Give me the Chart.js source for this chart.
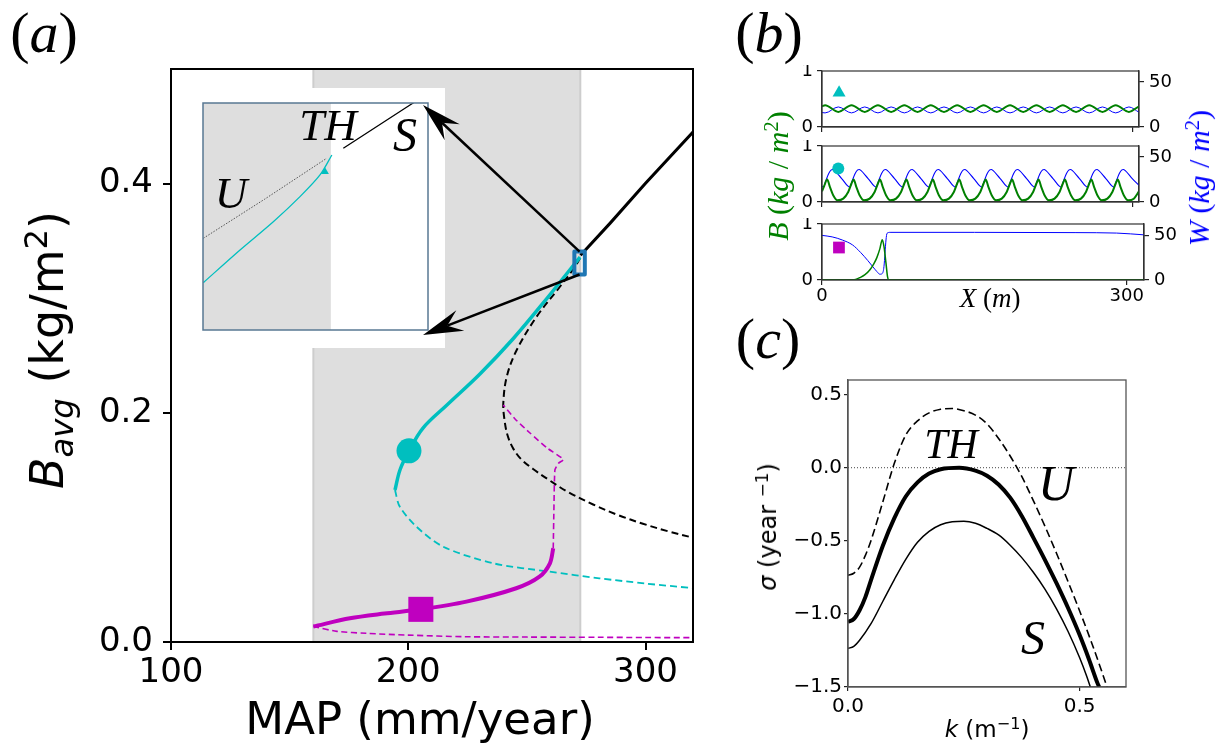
<!DOCTYPE html>
<html>
<head>
<meta charset="utf-8">
<title>Bifurcation diagram</title>
<script src="https://cdn.jsdelivr.net/npm/chart.js@4.4.1/dist/chart.umd.min.js"></script>
<style>
html,body{margin:0;padding:0;background:#fff;}
#wrap{position:relative;width:1223px;height:754px;overflow:hidden;background:#fff;}
canvas{position:absolute;display:block;}
.t{position:absolute;white-space:nowrap;line-height:1;color:#000;}
.c{transform:translate(-50%,-50%);}
.r{transform:translate(-50%,-50%) rotate(-90deg);}
.serif{font-family:"Liberation Serif","DejaVu Serif",serif;}
.sans{font-family:"DejaVu Sans","Liberation Sans",sans-serif;}
.sup{font-size:0.7em;position:relative;top:-0.5em;}
.sub{font-size:0.7em;position:relative;top:0.3em;}
</style>
</head>
<body>
<div id="wrap">
<canvas id="cA" width="720" height="754" style="left:0;top:0"></canvas>
<canvas id="cIn" width="248" height="260" style="left:197px;top:88px"></canvas>
<canvas id="cB1" width="443" height="74" style="left:780px;top:65px"></canvas>
<canvas id="cB2" width="443" height="74" style="left:780px;top:140px"></canvas>
<canvas id="cB3" width="443" height="92" style="left:780px;top:218px"></canvas>
<canvas id="cC" width="443" height="384" style="left:780px;top:370px"></canvas>
<canvas id="cArrows" width="1223" height="754" style="left:0;top:0"></canvas>

<div class="t serif c" style="left:44px;top:33px;font-size:58px">(<i>a</i>)</div>
<div class="t serif c" style="left:769px;top:33px;font-size:58px">(<i>b</i>)</div>
<div class="t serif c" style="left:768px;top:339px;font-size:58px">(<i>c</i>)</div>

<div class="t sans r" style="left:47px;top:350px;font-size:46px"><i>B</i><span class="sub"><i>avg</i></span> (kg/m<span class="sup">2</span>)</div>
<div class="t sans c" style="left:420px;top:718px;font-size:45px">MAP (mm/year)</div>

<div class="t serif c" style="left:328px;top:125px;font-size:45px"><i>TH</i></div>
<div class="t serif c" style="left:405px;top:135px;font-size:48px"><i>S</i></div>
<div class="t serif c" style="left:231px;top:193px;font-size:45px"><i>U</i></div>

<div class="t serif r" style="left:778px;top:176px;font-size:30px;color:#008000"><i>B</i> (<i>kg</i> / <i>m</i><span class="sup">2</span>)</div>
<div class="t serif r" style="left:1199px;top:178px;font-size:30px;color:#0000ff"><i>W</i> (<i>kg</i> / <i>m</i><span class="sup">2</span>)</div>
<div class="t serif c" style="left:990px;top:298px;font-size:27px"><i>X</i> (<i>m</i>)</div>

<div class="t serif c" style="left:951px;top:444px;font-size:42px"><i>TH</i></div>
<div class="t serif c" style="left:1056px;top:483px;font-size:50px"><i>U</i></div>
<div class="t serif c" style="left:1033px;top:638px;font-size:48px"><i>S</i></div>
<div class="t sans r" style="left:768px;top:527px;font-size:24px"><i>σ</i> (year <span class="sup">−1</span>)</div>
<div class="t sans c" style="left:987px;top:729px;font-size:23px"><i>k</i> (m<span class="sup">−1</span>)</div>
</div>

<script>
// ---------------- DATA ----------------
// panel (a): axis ticks
const mapTicks = [100, 200, 300];
const bTicks = [0.0, 0.2, 0.4];
const aRangeMAP = [100, 320];
const aRangeB = [0, 0.5];
const bandMAP = [160, 272.5];            // grey region (MAP)
const insetMAP = [270.0, 274.4];         // zoomed region
const insetB = [0.3207, 0.3407];

// upper uniform branch (stable, black solid)
const blackSolidMAP = [272.6, 285, 300, 320];
const blackSolidB   = [0.3375, 0.3653, 0.4003, 0.4450];
// uniform branch (unstable, black dashed)
const blackDashMAP = [272.4, 270.3, 263.9, 254.1, 245.7, 241.5, 240.05, 240.56, 241.8, 244.1, 247.5, 252.6, 259.3, 267.3, 277.9, 288.4, 298.9, 309.5, 320.0];
const blackDashB   = [0.3351, 0.3275, 0.3100, 0.2839, 0.2548, 0.2315, 0.2083, 0.1937, 0.1806, 0.1693, 0.1597, 0.1510, 0.1414, 0.1309, 0.1200, 0.1108, 0.1032, 0.0966, 0.0910];
// periodic branch (cyan)
const cyanSolidMAP = [272.4, 258.9, 244.1, 230.2, 216.3, 206.2, 200.3, 196.5, 194.4];
const cyanSolidB   = [0.3359, 0.3010, 0.2644, 0.2339, 0.2068, 0.1867, 0.1667, 0.1501, 0.1326];
const cyanDashMAP  = [194.4, 196.4, 203.4, 214.7, 235.8, 259.5, 280.5, 300, 320];
const cyanDashB    = [0.1326, 0.1182, 0.1007, 0.0832, 0.0687, 0.0614, 0.0556, 0.0510, 0.0470];
// localized branch (magenta)
const magSolidMAP = [160.0, 175.4, 190.0, 205.3, 224.5, 245.5, 255.3, 259.7, 261.1];
const magSolidB   = [0.0135, 0.0207, 0.0248, 0.0285, 0.0352, 0.0469, 0.0570, 0.0687, 0.0818];
const magDashLowMAP = [160.0, 170.0, 182.4, 200.0, 224.5, 250.0, 280.5, 300, 320];
const magDashLowB   = [0.0135, 0.0093, 0.0076, 0.0060, 0.0046, 0.0043, 0.0041, 0.0039, 0.0038];
const magDashUpMAP = [261.1, 261.4, 261.8, 263.3, 265.4, 258.5, 251.3, 245.0, 240.05];
const magDashUpB   = [0.0818, 0.1181, 0.1501, 0.1560, 0.1593, 0.1693, 0.1824, 0.1946, 0.2068];
// markers in (a)
const circleA = [200.3, 0.1668];
const squareA = [205.3, 0.0285];

// inset curves
const insetUMAP = [270.006, 271.2, 272.419];
const insetUB   = [0.32878, 0.33221, 0.33583];
const insetCyanMAP = [270.006, 270.724, 271.375, 271.897, 272.288, 272.52];
const insetCyanB   = [0.32487, 0.32775, 0.33024, 0.33245, 0.33436, 0.33612];
const insetSMAP = [272.744, 274.048, 274.3];
const insetSB   = [0.33671, 0.34052, 0.34126];
const insetTri  = [272.386, 0.33465];

// panel (b): spatial profiles
const bTicksX = [0, 300];
const bTicksB = [0, 1];
const bTicksW = [0, 50];

const p1X = [0, 3, 15.75, 28.5, 41.25, 54, 66.75, 79.5, 92.25, 105, 117.75, 130.5, 143.25, 156, 168.75, 181.5, 194.25, 207, 219.75, 232.5, 245.25, 258, 270.75, 283.5, 296.25, 306];
const p1B = [0.37, 0.39, 0.27, 0.39, 0.27, 0.39, 0.27, 0.39, 0.27, 0.39, 0.27, 0.39, 0.27, 0.39, 0.27, 0.39, 0.27, 0.39, 0.27, 0.39, 0.27, 0.39, 0.27, 0.39, 0.27, 0.37];
const p1W = [16.0, 15.6, 22.2, 15.6, 22.2, 15.6, 22.2, 15.6, 22.2, 15.6, 22.2, 15.6, 22.2, 15.6, 22.2, 15.6, 22.2, 15.6, 22.2, 15.6, 22.2, 15.6, 22.2, 15.6, 22.2, 16.3];

const p2BX = [0, 2,
  5, 7.6, 10.8, 15, 20.5, 25.3, 28.5,
  30.5, 33.1, 36.3, 40.5, 46, 50.8, 54,
  56, 58.6, 61.8, 66, 71.5, 76.3, 79.5,
  81.5, 84.1, 87.3, 91.5, 97, 101.8, 105,
  107, 109.6, 112.8, 117, 122.5, 127.3, 130.5,
  132.5, 135.1, 138.3, 142.5, 148, 152.8, 156,
  158, 160.6, 163.8, 168, 173.5, 178.3, 181.5,
  183.5, 186.1, 189.3, 193.5, 199, 203.8, 207,
  209, 211.6, 214.8, 219, 224.5, 229.3, 232.5,
  234.5, 237.1, 240.3, 244.5, 250, 254.8, 258,
  260, 262.6, 265.8, 270, 275.5, 280.3, 283.5,
  285.5, 288.1, 291.3, 295.5, 301, 306];
const p2B = [0.19, 0.28,
  0.40, 0.27, 0.12, 0.03, 0.06, 0.18, 0.33,
  0.40, 0.27, 0.12, 0.03, 0.06, 0.18, 0.33,
  0.40, 0.27, 0.12, 0.03, 0.06, 0.18, 0.33,
  0.40, 0.27, 0.12, 0.03, 0.06, 0.18, 0.33,
  0.40, 0.27, 0.12, 0.03, 0.06, 0.18, 0.33,
  0.40, 0.27, 0.12, 0.03, 0.06, 0.18, 0.33,
  0.40, 0.27, 0.12, 0.03, 0.06, 0.18, 0.33,
  0.40, 0.27, 0.12, 0.03, 0.06, 0.18, 0.33,
  0.40, 0.27, 0.12, 0.03, 0.06, 0.18, 0.33,
  0.40, 0.27, 0.12, 0.03, 0.06, 0.18, 0.33,
  0.40, 0.27, 0.12, 0.03, 0.06, 0.18, 0.33,
  0.40, 0.27, 0.12, 0.03, 0.06, 0.19];
const p2WX = [0,
  1.4, 3.5, 6.5, 9, 10.5, 12, 19,
  26.9, 29, 32, 34.5, 36, 37.5, 44.5,
  52.4, 54.5, 57.5, 60, 61.5, 63, 70,
  77.9, 80, 83, 85.5, 87, 88.5, 95.5,
  103.4, 105.5, 108.5, 111, 112.5, 114, 121,
  128.9, 131, 134, 136.5, 138, 139.5, 146.5,
  154.4, 156.5, 159.5, 162, 163.5, 165, 172,
  179.9, 182, 185, 187.5, 189, 190.5, 197.5,
  205.4, 207.5, 210.5, 213, 214.5, 216, 223,
  230.9, 233, 236, 238.5, 240, 241.5, 248.5,
  256.4, 258.5, 261.5, 264, 265.5, 267, 274,
  281.9, 284, 287, 289.5, 291, 292.5, 299.5,
  306];
const p2W = [17.5,
  16.5, 23, 31.5, 35.5, 36, 35, 26,
  16.5, 23, 31.5, 35.5, 36, 35, 26,
  16.5, 23, 31.5, 35.5, 36, 35, 26,
  16.5, 23, 31.5, 35.5, 36, 35, 26,
  16.5, 23, 31.5, 35.5, 36, 35, 26,
  16.5, 23, 31.5, 35.5, 36, 35, 26,
  16.5, 23, 31.5, 35.5, 36, 35, 26,
  16.5, 23, 31.5, 35.5, 36, 35, 26,
  16.5, 23, 31.5, 35.5, 36, 35, 26,
  16.5, 23, 31.5, 35.5, 36, 35, 26,
  16.5, 23, 31.5, 35.5, 36, 35, 26,
  16.5, 23, 31.5, 35.5, 36, 35, 26,
  18.2];

const p3BX = [0, 27, 33, 37, 42, 47, 51, 54, 57, 59.3, 61, 63, 64.5, 66, 317];
const p3B  = [0, 0, 0.01, 0.04, 0.09, 0.18, 0.29, 0.40, 0.56, 0.72, 0.60, 0.30, 0.06, 0, 0];
const p3WX = [0, 10, 20, 30, 38, 45, 50, 54, 57, 59.5, 61, 62, 63, 64, 67, 150, 250, 290, 317];
const p3W  = [50.2, 48.5, 45, 39.5, 31, 22, 15, 9.5, 6.5, 7.5, 15, 30, 45, 52.5, 53.6, 53.6, 53.3, 52.8, 50.8];

const triB = [16.5, 0.61];
const circB = [15.7, 0.60];
const sqB = [16.7, 0.58];

// panel (c): dispersion relations (growth rate vs wavenumber)
const cTicksK = [0.0, 0.5];
const cTicksS = [0.5, 0.0, -0.5, -1.0, -1.5];
const kU = [0, 0.0125, 0.025, 0.0375, 0.05, 0.075, 0.1, 0.125, 0.15, 0.175, 0.2, 0.225, 0.25, 0.275, 0.3, 0.325, 0.35, 0.375, 0.4, 0.425, 0.45, 0.475, 0.5, 0.525, 0.55, 0.559];
const sU = [-0.736, -0.722, -0.680, -0.600, -0.495, -0.235, 0.030, 0.225, 0.320, 0.375, 0.400, 0.405, 0.390, 0.360, 0.300, 0.200, 0.080, -0.060, -0.225, -0.400, -0.585, -0.780, -0.980, -1.190, -1.415, -1.5];
const kTH = [0, 0.0125, 0.025, 0.0375, 0.05, 0.075, 0.1, 0.125, 0.15, 0.175, 0.2, 0.24, 0.275, 0.3, 0.325, 0.35, 0.375, 0.4, 0.425, 0.45, 0.475, 0.5, 0.52, 0.538, 0.542];
const sTH = [-1.055, -1.035, -0.975, -0.885, -0.765, -0.535, -0.345, -0.195, -0.100, -0.040, -0.010, 0.0, -0.020, -0.055, -0.115, -0.205, -0.330, -0.478, -0.630, -0.790, -0.960, -1.145, -1.310, -1.470, -1.5];
const kS = [0, 0.0125, 0.025, 0.05, 0.075, 0.1, 0.125, 0.15, 0.175, 0.2, 0.225, 0.25, 0.275, 0.3, 0.325, 0.35, 0.375, 0.4, 0.425, 0.45, 0.475, 0.5, 0.515, 0.523];
const sS = [-1.236, -1.222, -1.180, -1.065, -0.915, -0.765, -0.625, -0.510, -0.435, -0.390, -0.370, -0.366, -0.380, -0.415, -0.460, -0.530, -0.615, -0.715, -0.830, -0.965, -1.120, -1.300, -1.425, -1.5];
const kZero = [0, 0.6];
const sZero = [0, 0];

// ---------------- STYLE / HELPERS ----------------
const GREEN = '#008000', BLUE = '#0000ff', CYAN = '#00bfbf', MAG = '#bf00bf', BOXC = '#1f77b4';
Chart.defaults.font.family = '"DejaVu Sans", sans-serif';
const pts = (xs, ys) => xs.map((x, i) => ({x: x, y: ys[i]}));
function line(xs, ys, color, width, dash, tension, yAxisID, mono) {
  const d = {data: pts(xs, ys), showLine: true, borderColor: color, backgroundColor: color,
    borderWidth: width, borderDash: dash || [], pointRadius: 0, pointHoverRadius: 0,
    tension: tension, fill: false};
  if (yAxisID) d.yAxisID = yAxisID;
  if (mono) d.cubicInterpolationMode = 'monotone';
  return d;
}
function marker(p, color, style, r, yAxisID) {
  const d = {data: [{x: p[0], y: p[1]}], showLine: false, pointStyle: style, pointRadius: r,
    pointHoverRadius: r, pointBackgroundColor: color, pointBorderColor: color, pointBorderWidth: 0};
  if (yAxisID) d.yAxisID = yAxisID;
  return d;
}
const setTicks = vals => s => { s.ticks = vals.map(v => ({value: v})); };
const fixW = w => s => { s.width = w; s.paddingLeft = s.paddingRight = s.paddingTop = s.paddingBottom = 0; };
const fixH = h => s => { s.height = h; s.paddingLeft = s.paddingRight = s.paddingTop = s.paddingBottom = 0; };
function framePlugin(color, lw) {
  return {id: 'frame', afterDraw(c) {
    const a = c.chartArea, x = c.ctx; x.save(); x.strokeStyle = color; x.lineWidth = lw;
    x.strokeRect(a.left, a.top, a.right - a.left, a.bottom - a.top); x.restore(); }};
}
const baseOpts = {responsive: false, animation: false, events: [],
  plugins: {legend: {display: false}, tooltip: {enabled: false}}};

// ---------------- PANEL (a) ----------------
const bandPlugin = {id: 'band', beforeDatasetsDraw(c) {
  const a = c.chartArea, x = c.ctx, sx = c.scales.x;
  const x0 = sx.getPixelForValue(bandMAP[0]), x1 = sx.getPixelForValue(bandMAP[1]);
  x.save(); x.fillStyle = '#dedede'; x.fillRect(x0, a.top, x1 - x0, a.bottom - a.top);
  x.strokeStyle = '#cdcdcd'; x.lineWidth = 2;
  x.beginPath(); x.moveTo(x0, a.top); x.lineTo(x0, a.bottom); x.moveTo(x1, a.top); x.lineTo(x1, a.bottom); x.stroke();
  x.restore(); }};
const boxPlugin = {id: 'box', afterDatasetsDraw(c) {
  const x = c.ctx, sx = c.scales.x, sy = c.scales.y;
  const l = sx.getPixelForValue(insetMAP[0]), r = sx.getPixelForValue(insetMAP[1]);
  const t = sy.getPixelForValue(insetB[1]), b = sy.getPixelForValue(insetB[0]);
  x.save(); x.strokeStyle = BOXC; x.lineWidth = 4; x.lineJoin = 'round';
  x.strokeRect(l, t, r - l, b - t); x.restore(); }};

const chartA = new Chart(document.getElementById('cA'), {
  type: 'scatter',
  data: {datasets: [
    marker(circleA, CYAN, 'circle', 12.5),
    marker(squareA, MAG, 'rect', 17.7),
    line(cyanSolidMAP, cyanSolidB, CYAN, 3.5, null, 0.35),
    line(magSolidMAP, magSolidB, MAG, 4, null, 0.3),
    line(blackSolidMAP, blackSolidB, '#000', 3, null, 0),
    line(cyanDashMAP, cyanDashB, CYAN, 1.8, [7, 4], 0.3),
    line(magDashLowMAP, magDashLowB, MAG, 1.6, [6, 3.5], 0.3),
    line(magDashUpMAP, magDashUpB, MAG, 1.6, [6, 3.5], 0.15),
    line(blackDashMAP, blackDashB, '#000', 2, [7, 4], 0.35)
  ]},
  options: Object.assign({}, baseOpts, {
    layout: {autoPadding: false, padding: {top: 69, right: 27, left: 0, bottom: 0}},
    scales: {
      x: {type: 'linear', min: aRangeMAP[0], max: aRangeMAP[1], afterBuildTicks: setTicks(mapTicks), afterFit: fixH(112),
        grid: {drawOnChartArea: false, color: '#000', lineWidth: 2, tickLength: 8},
        border: {color: '#000', width: 2},
        ticks: {color: '#000', font: {size: 34}, padding: 3, maxRotation: 0, autoSkip: false, callback: v => String(v)}},
      y: {type: 'linear', min: aRangeB[0], max: aRangeB[1], afterBuildTicks: setTicks(bTicks), afterFit: fixW(171),
        grid: {drawOnChartArea: false, color: '#000', lineWidth: 2, tickLength: 8},
        border: {color: '#000', width: 2},
        ticks: {color: '#000', font: {size: 34}, padding: 10, autoSkip: false, callback: v => v.toFixed(1)}}
    }
  }),
  plugins: [bandPlugin, boxPlugin, framePlugin('#000', 2)]
});

// inset
const insetPlugin = {id: 'insetbg',
  beforeDraw(c) { const x = c.ctx; x.save(); x.fillStyle = '#fff'; x.fillRect(0, 0, c.width, c.height); x.restore(); },
  beforeDatasetsDraw(c) {
    const a = c.chartArea, x = c.ctx, sx = c.scales.x;
    const x1 = sx.getPixelForValue(bandMAP[1]);
    x.save(); x.fillStyle = '#dedede'; x.fillRect(a.left, a.top, x1 - a.left, a.bottom - a.top); x.restore(); }};
const chartIn = new Chart(document.getElementById('cIn'), {
  type: 'scatter',
  data: {datasets: [
    marker(insetTri, CYAN, 'triangle', 4.5),
    line(insetCyanMAP, insetCyanB, CYAN, 1.3, null, 0.3),
    line(insetSMAP, insetSB, '#000', 1.3, null, 0),
    line(insetUMAP, insetUB, '#444', 0.9, [1.5, 1.5], 0)
  ]},
  options: Object.assign({}, baseOpts, {
    layout: {autoPadding: false, padding: {left: 6, top: 15, right: 17, bottom: 18}},
    scales: {
      x: {type: 'linear', display: false, min: insetMAP[0], max: insetMAP[1]},
      y: {type: 'linear', display: false, min: insetB[0], max: insetB[1]}
    }
  }),
  plugins: [insetPlugin, framePlugin('#587893', 1.5)]
});

// ---------------- PANEL (b) ----------------
function makeB(id, spec) {
  return new Chart(document.getElementById(id), {
    type: 'scatter',
    data: {datasets: [
      marker(spec.mk, spec.mkColor, spec.mkStyle, spec.mkR, 'y'),
      line(spec.gx, spec.gy, GREEN, spec.gw, null, 0, 'y', true),
      line(spec.wx, spec.wy, BLUE, spec.ww, null, 0, 'y2', true)
    ]},
    options: Object.assign({}, baseOpts, {
      layout: {autoPadding: false, padding: {top: 6, left: 0, right: 0, bottom: 0}},
      scales: {
        x: {type: 'linear', min: 0, max: spec.xmax, afterBuildTicks: setTicks(bTicksX), afterFit: fixH(spec.xh),
          grid: {drawOnChartArea: false, color: '#222', lineWidth: 1.2, tickLength: 5},
          border: {color: '#333', width: 1.2},
          ticks: {color: '#000', font: {size: 18}, padding: 1, maxRotation: 0, autoSkip: false,
            callback: v => spec.xlabels ? String(v) : ''}},
        y: {type: 'linear', position: 'left', min: 0, max: 1, afterBuildTicks: setTicks(bTicksB), afterFit: fixW(42),
          grid: {drawOnChartArea: false, color: '#222', lineWidth: 1.2, tickLength: 5},
          border: {color: '#333', width: 1.2},
          ticks: {color: '#000', font: {size: 18}, padding: 4, autoSkip: false, callback: v => String(v)}},
        y2: {type: 'linear', position: 'right', min: 0, max: spec.wmax, afterBuildTicks: setTicks(bTicksW), afterFit: fixW(spec.rw),
          grid: {drawOnChartArea: false, color: '#222', lineWidth: 1.2, tickLength: 5},
          border: {color: '#333', width: 1.2},
          ticks: {color: '#000', font: {size: 18}, padding: 5, autoSkip: false, callback: v => String(v)}}
      }
    }),
    plugins: [framePlugin('#333', 1.2)]
  });
}
makeB('cB1', {gx: p1X, gy: p1B, wx: p1X, wy: p1W, gw: 2, ww: 1, xmax: 306, wmax: 62, xh: 12, rw: 84, xlabels: false,
  mk: triB, mkColor: CYAN, mkStyle: 'triangle', mkR: 7.5});
makeB('cB2', {gx: p2BX, gy: p2B, wx: p2WX, wy: p2W, gw: 2, ww: 1.1, xmax: 306, wmax: 62, xh: 12, rw: 84, xlabels: false,
  mk: circB, mkColor: CYAN, mkStyle: 'circle', mkR: 6});
makeB('cB3', {gx: p3BX, gy: p3B, wx: p3WX, wy: p3W, gw: 1.5, ww: 1, xmax: 317, wmax: 63, xh: 30, rw: 79, xlabels: true,
  mk: sqB, mkColor: MAG, mkStyle: 'rect', mkR: 8.3});

// ---------------- PANEL (c) ----------------
new Chart(document.getElementById('cC'), {
  type: 'scatter',
  data: {datasets: [
    line(kTH, sTH, '#000', 4, null, 0, null, true),
    line(kS, sS, '#000', 1.5, null, 0, null, true),
    line(kU, sU, '#000', 1.6, [8, 4], 0, null, true),
    line(kZero, sZero, '#444', 1, [1, 2], 0)
  ]},
  options: Object.assign({}, baseOpts, {
    layout: {autoPadding: false, padding: {top: 10, right: 97, left: 0, bottom: 0}},
    scales: {
      x: {type: 'linear', min: 0, max: 0.6, afterBuildTicks: setTicks(cTicksK), afterFit: fixH(67),
        grid: {drawOnChartArea: false, color: '#222', lineWidth: 1.2, tickLength: 4},
        border: {color: '#555', width: 1.3},
        ticks: {color: '#000', font: {size: 20}, padding: 4, maxRotation: 0, autoSkip: false, callback: v => v.toFixed(1)}},
      y: {type: 'linear', min: -1.5, max: 0.6, afterBuildTicks: setTicks(cTicksS), afterFit: fixW(68),
        grid: {drawOnChartArea: false, color: '#222', lineWidth: 1.2, tickLength: 4},
        border: {color: '#555', width: 1.3},
        ticks: {color: '#000', font: {size: 20}, padding: 2, autoSkip: false, callback: v => v.toFixed(1).replace('-', '\u2212')}}
    }
  }),
  plugins: [framePlugin('#555', 1.3)]
});

// ---------------- ARROWS (box -> inset) ----------------
(function () {
  const ctx = document.getElementById('cArrows').getContext('2d');
  const sx = chartA.scales.x, sy = chartA.scales.y;
  const bx = sx.getPixelForValue((insetMAP[0] + insetMAP[1]) / 2);
  const bTop = sy.getPixelForValue(insetB[1]), bBot = sy.getPixelForValue(insetB[0]);
  const ia = chartIn.chartArea, ox = 197, oy = 88;
  function arrow(x0, y0, x1, y1) {
    const dx = x1 - x0, dy = y1 - y0, L = Math.hypot(dx, dy), ux = dx / L, uy = dy / L, px = -uy, py = ux;
    const hl = 40, hw = 11, notch = 26;
    ctx.beginPath(); ctx.moveTo(x0, y0); ctx.lineTo(x1 - ux * notch, y1 - uy * notch); ctx.stroke();
    ctx.beginPath(); ctx.moveTo(x1, y1);
    ctx.lineTo(x1 - ux * hl + px * hw, y1 - uy * hl + py * hw);
    ctx.lineTo(x1 - ux * notch, y1 - uy * notch);
    ctx.lineTo(x1 - ux * hl - px * hw, y1 - uy * hl - py * hw);
    ctx.closePath(); ctx.fill();
  }
  ctx.strokeStyle = '#000'; ctx.fillStyle = '#000'; ctx.lineWidth = 2.5;
  arrow(bx, bTop, ox + ia.right - 5, oy + ia.top + 2);
  arrow(bx, bBot, ox + ia.right - 5, oy + ia.bottom + 5);
})();
</script>
</body>
</html>
